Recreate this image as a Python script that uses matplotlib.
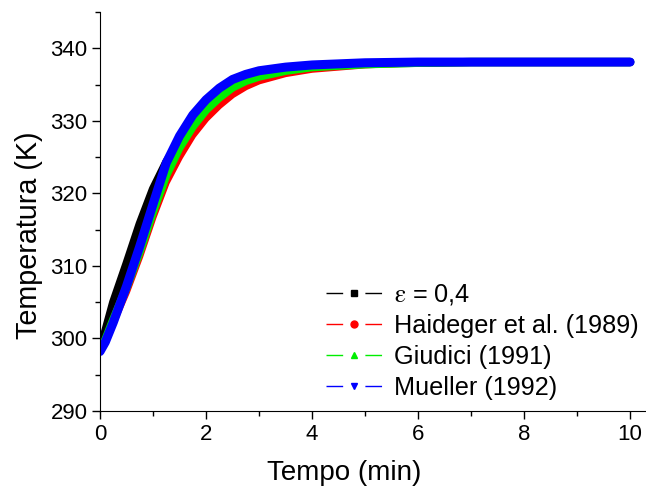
import matplotlib
matplotlib.use("Agg")
import matplotlib.pyplot as plt
from matplotlib.lines import Line2D
from matplotlib.ticker import MultipleLocator

plt.rcParams['font.family'] = ['Liberation Sans', 'DejaVu Sans']
plt.rcParams['mathtext.fontset'] = 'stix'

# tempo (min)
t = [0, 0.1, 0.25, 0.5, 0.75, 1.0, 1.25, 1.5, 1.75, 2.0, 2.25, 2.5, 2.75,
     3.0, 3.5, 4.0, 5.0, 6.0, 7.0, 8.0, 9.0, 10.0]

# temperatura (K)
eps04 = [298.6, 301.0, 305.0, 310.3, 315.8, 320.6, 324.3, 327.3, 330.0, 332.1,
         333.9, 335.2, 336.0, 336.6, 337.2, 337.6, 337.9, 338.0, 338.1, 338.1, 338.1, 338.1]
haideger = [298.4, 299.6, 302.2, 306.4, 311.3, 316.7, 321.5, 325.0, 328.0, 330.3,
            332.1, 333.6, 334.7, 335.5, 336.5, 337.1, 337.7, 338.0, 338.1, 338.1, 338.1, 338.1]
giudici = [298.4, 299.8, 302.6, 307.0, 312.0, 317.5, 322.5, 326.3, 329.2, 331.5,
           333.2, 334.6, 335.5, 336.1, 336.9, 337.4, 337.8, 338.0, 338.1, 338.1, 338.1, 338.1]
mueller = [298.2, 299.5, 302.2, 307.2, 312.7, 318.5, 324.2, 327.9, 330.8, 332.9,
           334.5, 335.7, 336.4, 336.9, 337.4, 337.7, 338.0, 338.1, 338.1, 338.1, 338.1, 338.1]

labels = [r'$\mathrm{\varepsilon}$ = 0,4', 'Haideger et al. (1989)', 'Giudici (1991)', 'Mueller (1992)']
colors = ['black', 'red', '#00ee00', 'blue']
markers = ['s', 'o', '^', 'v']
series = [eps04, haideger, giudici, mueller]
widths = [6.0, 5.0, 6.0, 6.5]

fig = plt.figure(figsize=(6.46, 4.87), dpi=100)
ax = fig.add_axes([100 / 646, 1 - 411 / 487, 546 / 646, 399 / 487])

for y, c, w in zip(series, colors, widths):
    ax.plot(t, y, color=c, lw=w, solid_capstyle='round', solid_joinstyle='round')

ax.set_xlim(0, 10.3)
ax.set_ylim(290, 345)
ax.xaxis.set_major_locator(MultipleLocator(2))
ax.xaxis.set_minor_locator(MultipleLocator(1))
ax.yaxis.set_major_locator(MultipleLocator(10))
ax.yaxis.set_minor_locator(MultipleLocator(5))
ax.tick_params(which='major', length=6, width=1, labelsize=16, direction='out', pad=3)
ax.tick_params(which='minor', length=3.5, width=1, direction='out')
for s in ['top', 'right']:
    ax.spines[s].set_visible(False)

ax.set_xlabel('Tempo (min)', fontsize=20)
ax.set_ylabel('Temperatura (K)', fontsize=20.7)
ax.xaxis.set_label_coords((344 - 100) / 546, -49 / 399)
ax.yaxis.set_label_coords(-57 / 546, (411 - 235) / 399)

handles = [Line2D([0], [0], color=c, lw=1, marker=m, markersize=5, dashes=(12, 16))
           for c, m in zip(colors, markers)]
fig.legend(handles, labels, loc='upper left', bbox_to_anchor=(326 / 646, 1 - 282 / 487),
           frameon=False, fontsize=18.2, handlelength=2.2, handletextpad=0.5,
           labelspacing=0.28, numpoints=1, borderpad=0, borderaxespad=0)

fig.savefig('out.png', dpi=100)
